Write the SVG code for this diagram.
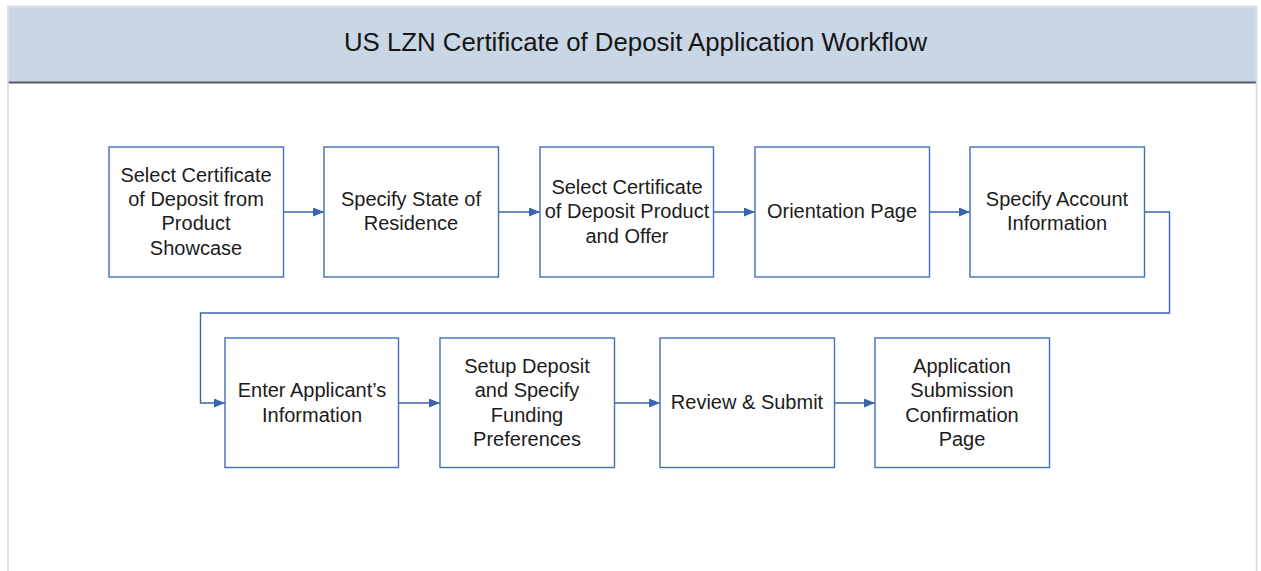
<svg xmlns="http://www.w3.org/2000/svg" width="1261" height="571" viewBox="0 0 1261 571">
<style>
.frame{fill:#ffffff;stroke:#d9d9d9;stroke-width:1.6}
.box{fill:#ffffff;stroke:#3f6fb8;stroke-width:1.4}
.lbl{font-family:"Liberation Sans",Arial,sans-serif;font-size:20px;fill:#1c1c1c;text-anchor:middle}
.title{font-family:"Liberation Sans",Arial,sans-serif;font-size:25.8px;fill:#151515;text-anchor:middle}
.conn{fill:none;stroke:#3a64ae;stroke-width:1.4}
</style>
<defs>
<marker id="arrow" markerUnits="userSpaceOnUse" markerWidth="12" markerHeight="10" refX="11" refY="4.5" orient="auto">
<path d="M0,0 L11,4.5 L0,9 z" fill="#3a64ae"/>
</marker>
</defs>
<rect width="1261" height="571" fill="#ffffff"/>
<rect class="frame" x="8" y="6.5" width="1248.5" height="580"/>
<rect x="8.8" y="7.3" width="1247" height="75" fill="#c9d6e5"/>
<line x1="8.8" y1="82.5" x2="1255.8" y2="82.5" stroke="#555d66" stroke-width="1.8"/>
<text class="title" x="635.5" y="51">US LZN Certificate of Deposit Application Workflow</text>

<g id="connectors">
<line class="conn" x1="283.5" y1="212" x2="324" y2="212" marker-end="url(#arrow)"/>
<line class="conn" x1="498.5" y1="212" x2="540" y2="212" marker-end="url(#arrow)"/>
<line class="conn" x1="713.5" y1="212" x2="755" y2="212" marker-end="url(#arrow)"/>
<line class="conn" x1="929.5" y1="212" x2="970" y2="212" marker-end="url(#arrow)"/>
<path class="conn" d="M1144.5,212 H1169.5 V313 H200.5 V403 H225" marker-end="url(#arrow)"/>
<line class="conn" x1="398.5" y1="403" x2="440" y2="403" marker-end="url(#arrow)"/>
<line class="conn" x1="614.5" y1="403" x2="660" y2="403" marker-end="url(#arrow)"/>
<line class="conn" x1="834.5" y1="403" x2="875" y2="403" marker-end="url(#arrow)"/>
</g>

<g id="node1">
<rect class="box" x="109" y="147" width="174.5" height="130"/>
<text class="lbl" x="196" y="181.5">Select Certificate</text>
<text class="lbl" x="196" y="205.5">of Deposit from</text>
<text class="lbl" x="196" y="230">Product</text>
<text class="lbl" x="196" y="254.5">Showcase</text>
</g>
<g id="node2">
<rect class="box" x="324" y="147" width="174.5" height="130"/>
<text class="lbl" x="411" y="205.5">Specify State of</text>
<text class="lbl" x="411" y="230">Residence</text>
</g>
<g id="node3">
<rect class="box" x="540" y="147" width="173.5" height="130"/>
<text class="lbl" x="627" y="193.5">Select Certificate</text>
<text class="lbl" x="627" y="218">of Deposit Product</text>
<text class="lbl" x="627" y="242.5">and Offer</text>
</g>
<g id="node4">
<rect class="box" x="755" y="147" width="174.5" height="130"/>
<text class="lbl" x="842" y="218">Orientation Page</text>
</g>
<g id="node5">
<rect class="box" x="970" y="147" width="174.5" height="130"/>
<text class="lbl" x="1057" y="205.5">Specify Account</text>
<text class="lbl" x="1057" y="230">Information</text>
</g>
<g id="node6">
<rect class="box" x="225" y="338" width="173.5" height="129.5"/>
<text class="lbl" x="312" y="397">Enter Applicant’s</text>
<text class="lbl" x="312" y="421.5">Information</text>
</g>
<g id="node7">
<rect class="box" x="440" y="338" width="174.5" height="129.5"/>
<text class="lbl" x="527" y="372.5">Setup Deposit</text>
<text class="lbl" x="527" y="397">and Specify</text>
<text class="lbl" x="527" y="421.5">Funding</text>
<text class="lbl" x="527" y="446">Preferences</text>
</g>
<g id="node8">
<rect class="box" x="660" y="338" width="174.5" height="129.5"/>
<text class="lbl" x="747" y="409">Review &amp; Submit</text>
</g>
<g id="node9">
<rect class="box" x="875" y="338" width="174.5" height="129.5"/>
<text class="lbl" x="962" y="372.5">Application</text>
<text class="lbl" x="962" y="397">Submission</text>
<text class="lbl" x="962" y="421.5">Confirmation</text>
<text class="lbl" x="962" y="446">Page</text>
</g>
</svg>
